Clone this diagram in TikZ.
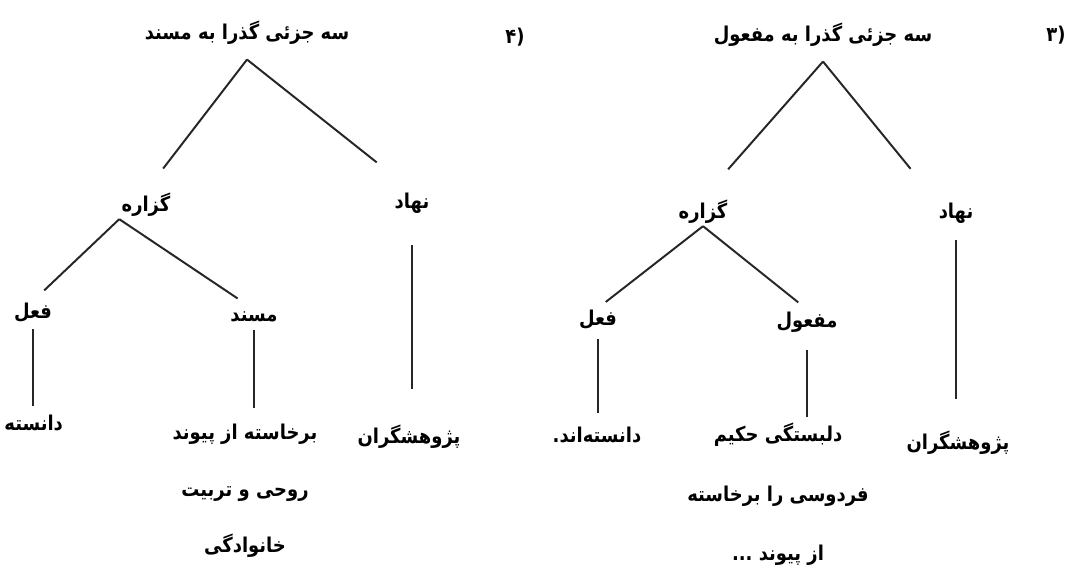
\documentclass[tikz,border=0pt]{standalone}
\usepackage{fontspec}
\newfontfamily\arabicfont[Script=Arabic, FakeStretch=0.88]{DejaVu Sans}
\TeXXeTstate=1
\usepackage{tikz}
\newcommand{\fatext}[1]{\beginR #1\endR}

\begin{document}
\begin{tikzpicture}[x=0.025cm, y=-0.025cm,
   word_style/.style={font=\arabicfont\bfseries\fontsize{14.5}{40}\selectfont, inner sep=1.5pt, align=center},
   root_style/.style={word_style, outer ysep=9pt},
   edge_style/.style={draw=black!85, line width=1.4pt}]
	\useasboundingbox (0,0) rectangle (1082,575);

	% tree (4)
	\node [word_style] (num4) at (515,37)  {(۴};
	\node [root_style] (r4)   at (247,33)  {\fatext{سه جزئی گذرا به مسند}};
	\node [word_style] (gz4)  at (146,205) {\fatext{گزاره}};
	\node [word_style] (nh4)  at (412,203) {\fatext{نهاد}};
	\node [word_style] (fl4)  at (33,313)  {\fatext{فعل}};
	\node [word_style] (ms4)  at (254,317) {\fatext{مسند}};
	\node [word_style, anchor=west] (vb4) at (2,423) {\fatext{دانسته}};
	\node [word_style, anchor=north] (ms4t) at (245,422)
	      {\fatext{برخاسته از پیوند}\\ \fatext{روحی و تربیت}\\ \fatext{خانوادگی}};
	\node [word_style] (nh4t) at (409,437) {\fatext{پژوهشگران}};

	% tree (3)
	\node [word_style] (num3) at (1056,35) {(۳};
	\node [root_style] (r3)   at (823,35)  {\fatext{سه جزئی گذرا به مفعول}};
	\node [word_style] (gz3)  at (703,212) {\fatext{گزاره}};
	\node [word_style] (nh3)  at (956,213) {\fatext{نهاد}};
	\node [word_style] (fl3)  at (598,320) {\fatext{فعل}};
	\node [word_style] (mf3)  at (807,322) {\fatext{مفعول}};
	\node [word_style] (vb3)  at (597,435) {\fatext{دانسته‌اند.}};
	\node [word_style, anchor=north, font=\arabicfont\bfseries\fontsize{14.5}{42}\selectfont] (mf3t) at (778,421)
	      {\fatext{دلبستگی حکیم}\\ \fatext{فردوسی را برخاسته}\\ \fatext{از پیوند ...}};
	\node [word_style] (nh3t) at (958,443) {\fatext{پژوهشگران}};

	% slanted branches
	\foreach \from/\fa/\to/\ta/\e in {
		r4/south/gz4/north/20,
		r4/south/nh4/north/32,
		gz4/south west/fl4/north/11,
		gz4/south west/ms4/north/14,
		r3/south/gz3/north/27,
		r3/south/nh3/north west/29,
		gz3/south/fl3/north/7,
		gz3/south/mf3/north/8
		}
	  \draw [edge_style, shorten >=\e] (\from.\fa) -- (\to.\ta);

	% vertical branches
	\foreach \from/\to/\s/\e in {
		fl4/vb4/3/5,
		ms4/ms4t/3.5/10,
		nh4/nh4t/21/24,
		fl3/vb3/5/8.5,
		mf3/mf3t/11/3,
		nh3/nh3t/10/21
		}
	  \draw [edge_style, shorten <=\s, shorten >=\e] (\from.south) -- (\from.south |- \to.north);

\end{tikzpicture}
\end{document}
